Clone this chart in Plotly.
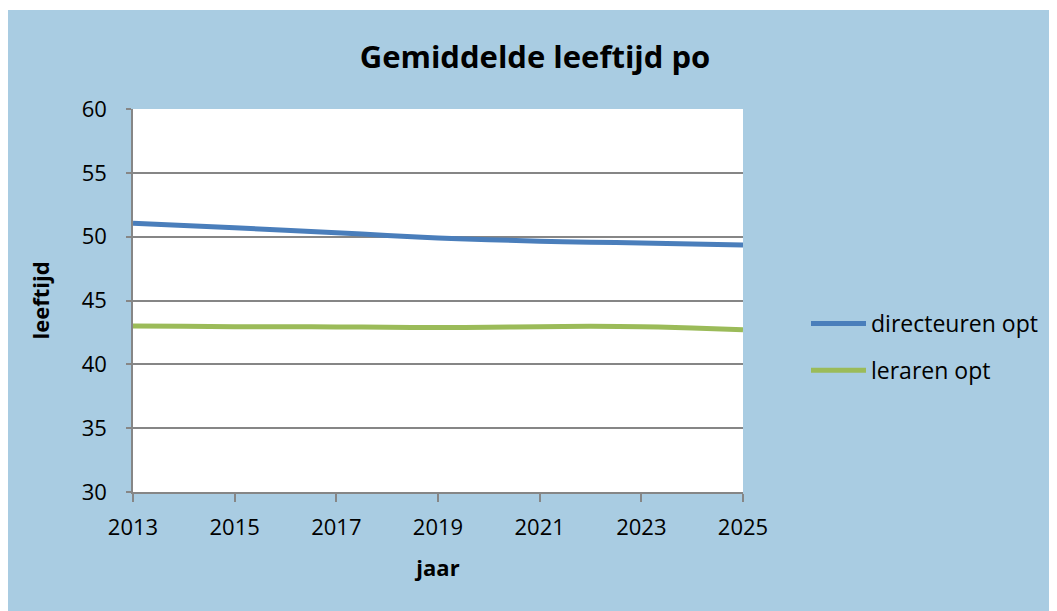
import plotly.graph_objects as go

years = list(range(2013, 2026))
directeuren = [51.05, 50.87, 50.7, 50.5, 50.3, 50.1, 49.9, 49.76, 49.65, 49.57, 49.5, 49.42, 49.35]
leraren = [43.0, 42.98, 42.95, 42.95, 42.93, 42.9, 42.88, 42.9, 42.95, 42.98, 42.95, 42.85, 42.7]
x_ticks = [2013, 2015, 2017, 2019, 2021, 2023, 2025]
y_ticks = [30, 35, 40, 45, 50, 55, 60]

OFF = 8  # browser body margin
W, H = 1057 - OFF, 611 - OFF
L, T = 133 - OFF, 109 - OFF
R, B = W - (743 - OFF), H - (492 - OFF)
pw, ph = W - L - R, H - T - B
BG = "#A9CCE2"
FONT = "Open Sans"

def px_x(p):
    return (p - OFF - L) / pw

def px_y(p):
    return (H - B - (p - OFF)) / ph

fig = go.Figure()
fig.add_trace(go.Scatter(x=years, y=directeuren, mode="lines", name="directeuren opt",
                         line=dict(color="#4A7EBB", width=5, shape="spline"),
                         legendgroup="a"))
fig.add_trace(go.Scatter(x=years, y=leraren, mode="lines", name="leraren opt",
                         line=dict(color="#9BBB59", width=5, shape="spline"),
                         legendgroup="b"))

shapes = [
    dict(type="rect", xref="paper", yref="paper", x0=px_x(0), x1=px_x(1100), y0=px_y(10), y1=px_y(0),
         fillcolor="white", line=dict(width=0), layer="below"),
]

fig.update_layout(
    width=W, height=H,
    margin=dict(l=L, r=R, t=T, b=B, pad=0),
    paper_bgcolor=BG, plot_bgcolor="white",
    font=dict(family=FONT, color="black"),
    title=dict(text="<b>Gemiddelde leeftijd po</b>", x=(535 - OFF) / W, xref="container",
               xanchor="center", y=1 - (57 - OFF) / H, yanchor="middle",
               font=dict(size=31, family=FONT)),
    shapes=shapes,
    showlegend=True,
    legend=dict(x=px_x(806), y=px_y(347), xanchor="left", yanchor="middle",
                bgcolor="rgba(0,0,0,0)", font=dict(size=23, family=FONT),
                traceorder="grouped", tracegroupgap=14, itemwidth=55),
    xaxis=dict(range=[2013, 2025], tickmode="array", tickvals=x_ticks,
               ticktext=[str(v) for v in x_ticks], showgrid=False, zeroline=False,
               showline=True, linecolor="#868686", linewidth=1.5,
               ticks="outside", ticklen=8, tickcolor="#868686", tickwidth=1.5,
               tickfont=dict(size=22, family=FONT), ticklabelstandoff=7,
               title=dict(text="<b>jaar</b>", font=dict(size=22, family=FONT), standoff=20)),
    yaxis=dict(range=[30, 60], tickmode="array", tickvals=y_ticks,
               showgrid=True, gridcolor="#868686", gridwidth=1.5, zeroline=False,
               showline=True, linecolor="#868686", linewidth=1.5,
               ticks="outside", ticklen=5, tickcolor="#868686", tickwidth=1.5,
               tickfont=dict(size=22, family=FONT), ticklabelstandoff=15,
               title=dict(text="<b>leeftijd</b>", font=dict(size=22, family=FONT), standoff=26)),
)

fig.write_html("out.html")
